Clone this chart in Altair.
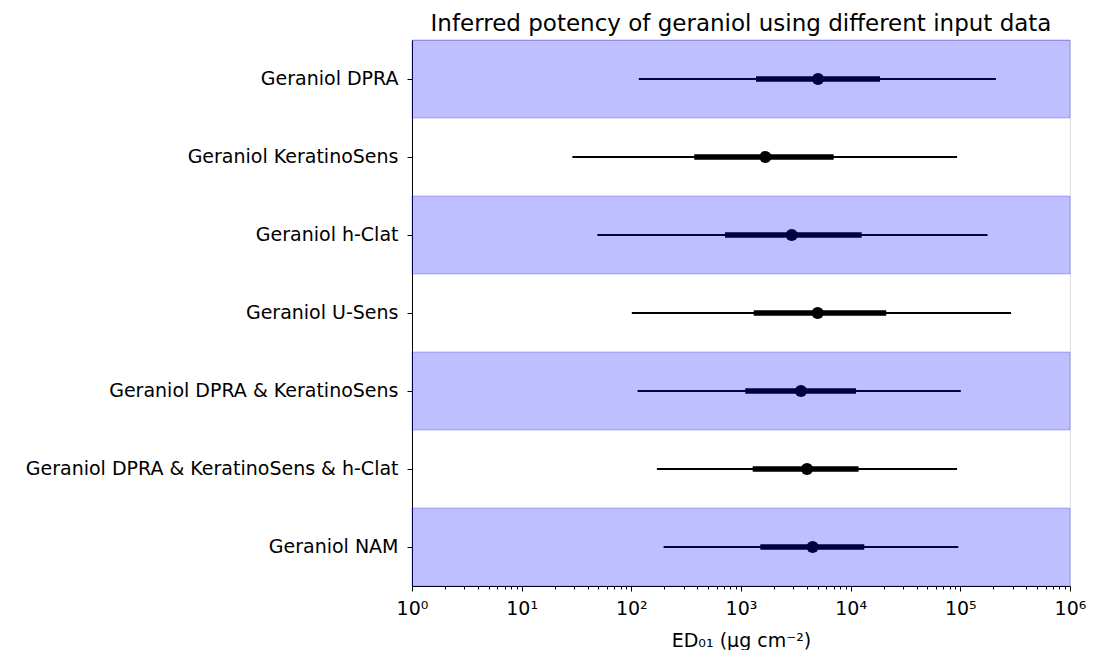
import altair as alt
import pandas as pd

labels = [
    "Geraniol DPRA",
    "Geraniol KeratinoSens",
    "Geraniol h-Clat",
    "Geraniol U-Sens",
    "Geraniol DPRA & KeratinoSens",
    "Geraniol DPRA & KeratinoSens & h-Clat",
    "Geraniol NAM",
]
lo95 = [117, 29, 49, 101, 114, 171, 197]
hi95 = [211000, 93300, 177000, 290000, 101000, 93300, 95800]
lo50 = [1370, 375, 715, 1306, 1094, 1278, 1500]
hi50 = [18500, 7000, 12600, 21100, 11200, 11800, 13300]
median = [5040, 1670, 2900, 5000, 3520, 4000, 4500]
shaded = [True, False, True, False, True, False, True]

major_ticks = [1, 10, 100, 1000, 10000, 100000, 1000000]
minor_ticks = [m * 10 ** k for k in range(6) for m in range(2, 10)]

df = pd.DataFrame({
    "label": labels, "lo95": lo95, "hi95": hi95,
    "lo50": lo50, "hi50": hi50, "median": median, "shaded": shaded,
})

W, H = 658, 546
FONT = "DejaVu Sans"
FS = 19

xscale = alt.Scale(type="log", domain=[1, 1000000], nice=False)
yscale = alt.Scale(domain=labels, paddingInner=0, paddingOuter=0)

label_expr = ("datum.value == 1 ? '10⁰' : datum.value == 10 ? '10¹' : datum.value == 100 ? '10²' : "
              "datum.value == 1000 ? '10³' : datum.value == 10000 ? '10⁴' : datum.value == 100000 ? '10⁵' : '10⁶'")

yax = alt.Axis(title=None, labelFontSize=FS, labelFont=FONT, labelColor="black",
               tickColor="black", domainColor="black", tickSize=5, labelPadding=9,
               labelLimit=600)

base = alt.Chart(df)

thin = base.mark_rule(color="black", strokeWidth=2).encode(
    x=alt.X("lo95:Q", scale=xscale,
            axis=alt.Axis(values=major_ticks, labelExpr=label_expr, title="ED₀₁ (μg cm⁻²)",
                          titleFontSize=FS, titleFont=FONT, titleFontWeight="normal",
                          titleColor="black", labelFontSize=FS, labelFont=FONT,
                          labelColor="black", tickColor="black", domainColor="black",
                          tickSize=5, labelPadding=8, grid=False, titlePadding=13,
                          orient="bottom", labelFlush=False)),
    x2="hi95:Q",
    y=alt.Y("label:N", scale=yscale, sort=labels, axis=yax),
)

thick = base.mark_rule(color="black", strokeWidth=5.5).encode(
    x=alt.X("lo50:Q", scale=xscale,
            axis=alt.Axis(values=minor_ticks, labels=False, title=None, tickSize=3,
                          tickColor="black", domain=False, grid=False, orient="bottom")),
    x2="hi50:Q",
    y=alt.Y("label:N", scale=yscale, sort=labels, axis=yax),
)

dots = base.mark_circle(color="black", opacity=1, size=150).encode(
    x=alt.X("median:Q", scale=xscale, axis=None),
    y=alt.Y("label:N", scale=yscale, sort=labels, axis=yax),
)

bands = base.transform_filter("datum.shaded").mark_rect(
    fill="blue", fillOpacity=0.25, stroke="blue", strokeOpacity=0.25, strokeWidth=1
).encode(
    x=alt.value(0), x2=alt.value(W),
    y=alt.Y("label:N", scale=yscale, sort=labels, axis=yax),
)

chart = alt.layer(thin, thick, dots, bands).resolve_axis(x="independent").properties(
    width=W, height=H,
    title=alt.TitleParams("Inferred potency of geraniol using different input data",
                          fontSize=23, font=FONT, fontWeight="normal", color="black",
                          anchor="middle", offset=4),
    padding={"left": 17, "top": 4, "right": 5, "bottom": 0},
).configure_view(stroke="black", strokeWidth=1).configure(background="white")

chart.save("out.html", embed_options={"renderer": "svg", "actions": False})
